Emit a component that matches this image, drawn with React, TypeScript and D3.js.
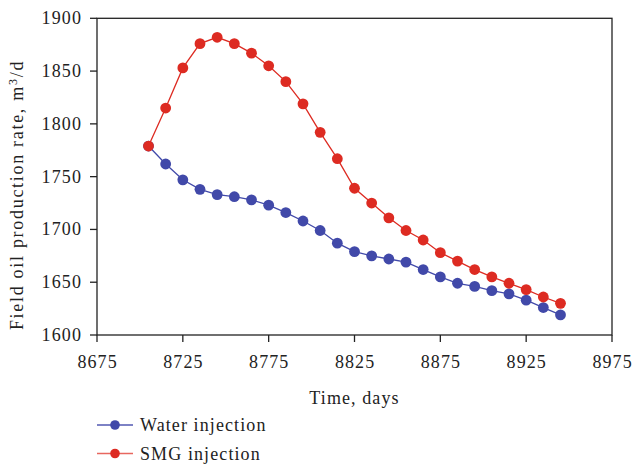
import React from "react";
import * as d3 from "d3";

const days = [8705, 8715, 8725, 8735, 8745, 8755, 8765, 8775, 8785, 8795, 8805, 8815, 8825, 8835, 8845, 8855, 8865, 8875, 8885, 8895, 8905, 8915, 8925, 8935, 8945];
const waterInjection = [1779, 1762, 1747, 1738, 1733, 1731, 1728, 1723, 1716, 1708, 1699, 1687, 1679, 1675, 1672, 1669, 1662, 1655, 1649, 1646, 1642, 1639, 1633, 1626, 1619];
const smgInjection = [1779, 1815, 1853, 1876, 1882, 1876, 1867, 1855, 1840, 1819, 1792, 1767, 1739, 1725, 1711, 1699, 1690, 1678, 1670, 1662, 1655, 1649, 1643, 1636, 1630];
const xTicks = [8675, 8725, 8775, 8825, 8875, 8925, 8975];
const yTicks = [1600, 1650, 1700, 1750, 1800, 1850, 1900];
const seriesNames = ["Water injection", "SMG injection"];

const W = 633, H = 464;
const L = 97, R = 612, T = 18.3, B = 335;
const FONT = "'Liberation Serif', 'Times New Roman', serif";
const BLUE = "#4149a9";
const RED = "#dd2b22";
const AXIS = "#222";

export default function App() {
  const x = d3.scaleLinear().domain([8675, 8975]).range([L, R]);
  const y = d3.scaleLinear().domain([1600, 1900]).range([B, T]);
  const line = d3.line<number>().x((_, i) => x(days[i])).y((d) => y(d));
  const series = [
    { name: seriesNames[0], values: waterInjection, color: BLUE, legendLine: "#5259b2" },
    { name: seriesNames[1], values: smgInjection, color: RED, legendLine: "#e8675f" },
  ];
  const textStyle = { fontFamily: FONT, fontSize: 18, letterSpacing: "1.1px", fill: "#222" } as React.CSSProperties;

  return (
    <svg width={W} height={H} style={{ position: "absolute", left: 0, top: 0, background: "#fff" }}>
      <rect x={0} y={0} width={W} height={H} fill="#fff" />
      {series.map((s) => (
        <g key={s.name}>
          <path d={line(s.values) || ""} fill="none" stroke={s.color} strokeWidth={1.3} />
          {s.values.map((v, i) => (
            <circle key={i} cx={x(days[i])} cy={y(v)} r={5.4} fill={s.color} />
          ))}
        </g>
      ))}
      <rect x={L} y={T} width={R - L} height={B - T} fill="none" stroke={AXIS} strokeWidth={1.3} />
      {yTicks.map((t) => (
        <g key={t}>
          <line x1={L - 7} x2={L} y1={y(t)} y2={y(t)} stroke={AXIS} strokeWidth={1.3} />
          <text x={82} y={y(t) + 6} textAnchor="end" style={textStyle}>{t}</text>
        </g>
      ))}
      {xTicks.map((t) => (
        <g key={t}>
          <line x1={x(t)} x2={x(t)} y1={B} y2={B + 7} stroke={AXIS} strokeWidth={1.3} />
          <text x={x(t) + 0.6} y={368} textAnchor="middle" style={textStyle}>{t}</text>
        </g>
      ))}
      <text x={(L + R) / 2} y={403.5} textAnchor="middle" style={textStyle}>Time, days</text>
      <text transform={`translate(23,195) rotate(-90)`} textAnchor="middle" style={{ ...textStyle, letterSpacing: "1.7px" }}>
        Field oil production rate, m<tspan dy={-6.5} fontSize={12}>3</tspan><tspan dy={6.5}>/d</tspan>
      </text>
      {series.map((s, i) => {
        const ly = 425 + i * 28.5;
        return (
          <g key={s.name}>
            <line x1={97} x2={133} y1={ly} y2={ly} stroke={s.legendLine} strokeWidth={1.5} />
            <circle cx={115} cy={ly} r={4.8} fill={s.color} />
            <text x={140} y={ly + 6} style={textStyle}>{s.name}</text>
          </g>
        );
      })}
    </svg>
  );
}
